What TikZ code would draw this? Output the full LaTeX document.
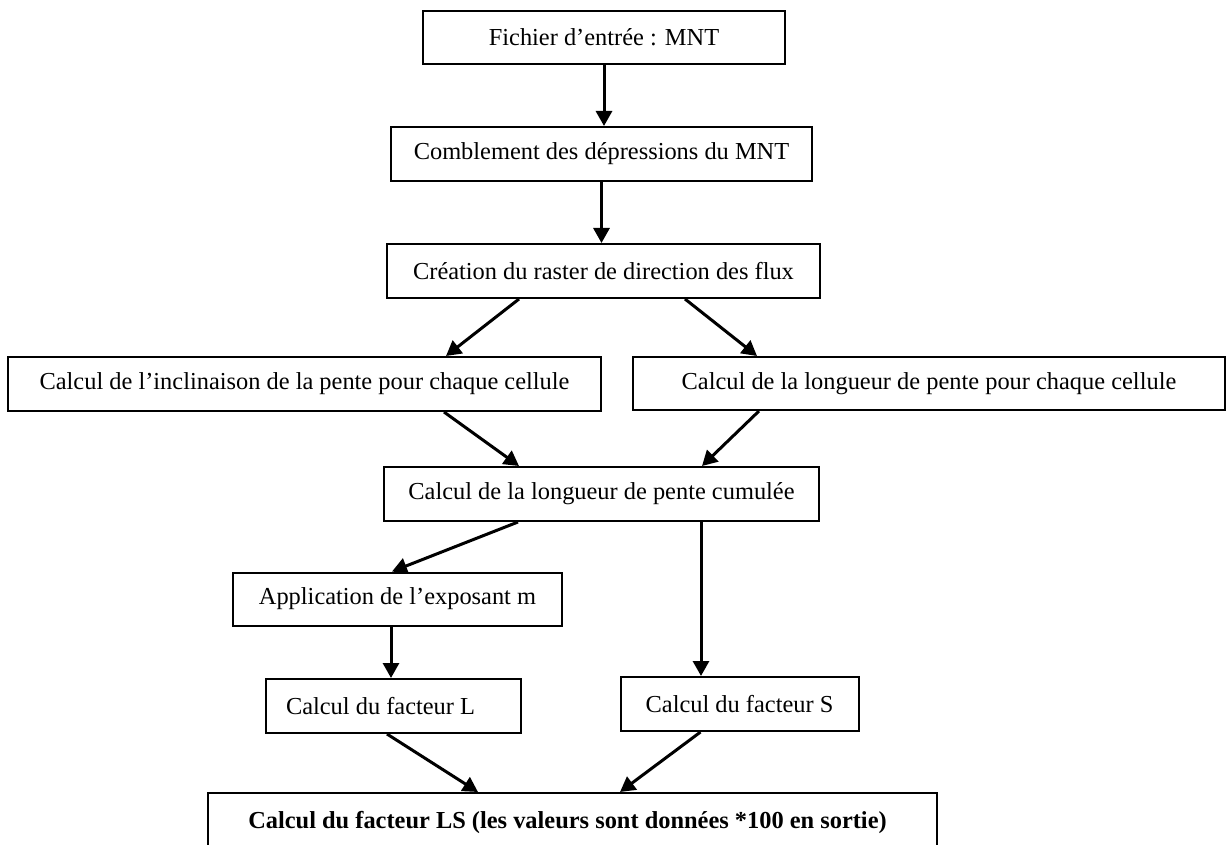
\documentclass[tikz,border=0pt]{standalone}
\usepackage{fontspec}
\setmainfont{Liberation Serif}
\usetikzlibrary{arrows.meta}
\begin{document}
\begin{tikzpicture}[x=1pt,y=-1pt,
  box/.style={draw=black, line width=2pt, inner sep=0pt, fill=white,
    font=\fontsize{24.4}{29}\selectfont},
  arr/.style={line width=3pt, -{Triangle[length=15pt,width=16pt]}}]
\useasboundingbox (0,0) rectangle (1226,845);
\clip (0,0) rectangle (1226,845);
\node[box, minimum width=362pt, minimum height=53pt] (b1) at (604,37.5) {Fichier d’entrée : MNT};
\node[box, minimum width=421pt, minimum height=54pt] (b2) at (601.5,154) {Comblement des dépressions du MNT};
\node[box, minimum width=433pt, minimum height=54pt] (b3) at (603.5,271) {Création du raster de direction des flux};
\node[box, minimum width=593pt, minimum height=54pt] (b4) at (304.5,384) {Calcul de l’inclinaison de la pente pour chaque cellule};
\node[box, minimum width=592pt, minimum height=53pt] (b5) at (929,383.5) {Calcul de la longueur de pente pour chaque cellule};
\node[box, minimum width=435pt, minimum height=54pt] (b6) at (601.5,494) {Calcul de la longueur de pente cumulée};
\node[box, minimum width=329pt, minimum height=53pt] (b7) at (397.5,599) {Application de l’exposant m};
\node[box, minimum width=255pt, minimum height=54pt] (b8) at (393.5,706) {\makebox[215pt][l]{Calcul du facteur L}};
\node[box, minimum width=238pt, minimum height=54pt] (b9) at (739.5,704) {Calcul du facteur S};
\node[box, minimum width=729pt, minimum height=58pt, font=\fontsize{24.4}{29}\selectfont\bfseries] (b10) at (572.5,822) {\hspace{-10pt}Calcul du facteur LS (les valeurs sont données *100 en sortie)};
% connectors
\draw[arr] (b1.south) -- (b1.south |- b2.north);
\draw[arr] (b2.south) -- (b2.south |- b3.north);
\draw[arr] ([xshift=133pt]b3.south west) -- ([xshift=439pt]b4.north west);
\draw[arr] ([xshift=299pt]b3.south west) -- ([xshift=125pt]b5.north west);
\draw[arr] ([xshift=437pt]b4.south west) -- ([xshift=136pt]b6.north west);
\draw[arr] ([xshift=127pt]b5.south west) -- ([xshift=319pt]b6.north west);
\draw[arr] ([xshift=135pt]b6.south west) -- ([xshift=160pt]b7.north west);
\coordinate (s8) at ([xshift=318pt]b6.south west);
\draw[arr] (s8) -- (s8 |- b9.north);
\coordinate (s9) at ([xshift=159pt]b7.south west);
\draw[arr] (s9) -- (s9 |- b8.north);
\draw[arr] ([xshift=122pt]b8.south west) -- ([xshift=271pt]b10.north west);
\draw[arr] ([xshift=81pt]b9.south west) -- ([xshift=413pt]b10.north west);
\end{tikzpicture}
\end{document}
